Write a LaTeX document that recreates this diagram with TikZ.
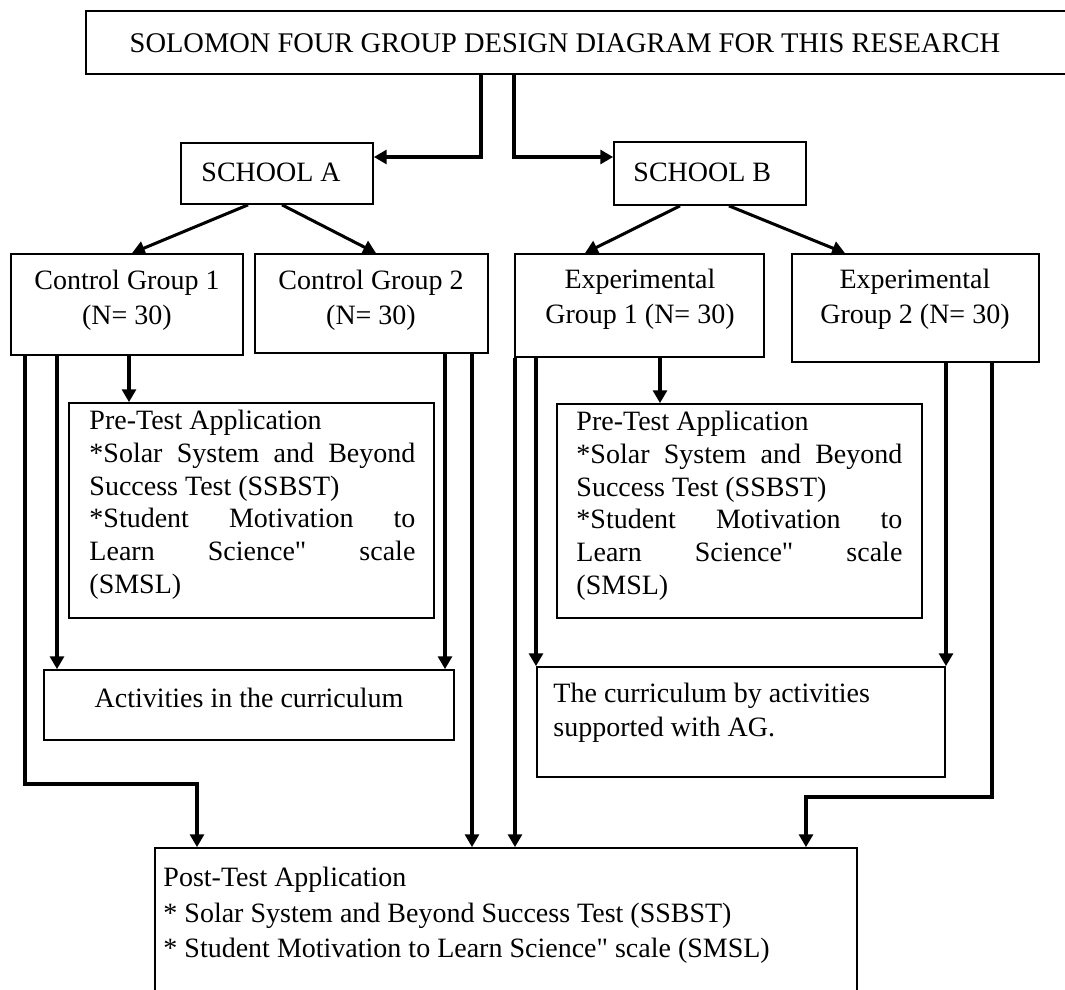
\documentclass[tikz,border=0pt]{standalone}
\usepackage{fontspec}
\setmainfont{Liberation Serif}[Ligatures=TeXOff]
\usetikzlibrary{arrows.meta,fit,calc}
\newlength\pw \setlength\pw{139.7pt}
\newcommand\jl[1]{\makebox[\pw][s]{#1}}
\begin{document}
\begin{tikzpicture}[x=0.4286pt,y=-0.4286pt,
  box/.style={draw, line width=0.75pt, inner sep=0pt},
  txt/.style={inner sep=0pt, font=\fontsize{12}{14.5}\selectfont},
  conn/.style={line width=1.3pt, line join=miter, -{Triangle[width=6pt,length=5.5pt]}}]
\useasboundingbox (0,0) rectangle (1065,990);
\clip (0,0) rectangle (1065,990);
% boxes
\node[box, fit={(86,11) (1080,74)}] (title) {};
\node[box, fit={(181,143) (373,204)}] (A) {};
\node[box, fit={(614,142) (806,205)}] (B) {};
\node[box, fit={(11,254) (243,355)}] (cg1) {};
\node[box, fit={(255,254) (488,353)}] (cg2) {};
\node[box, fit={(515,254) (764,357)}] (eg1) {};
\node[box, fit={(792,254) (1039,362)}] (eg2) {};
\node[box, fit={(69,403) (434,618)}] (preL) {};
\node[box, fit={(557,404) (922,618)}] (preR) {};
\node[box, fit={(44,670) (454,740)}] (act) {};
\node[box, fit={(537,667) (945,777)}] (cur) {};
\node[box, fit={(155,848) (857,1010)}] (post) {};
% texts
\node[txt, anchor=base, font=\fontsize{12.2}{14.5}\selectfont] (titlet) at (565,53) {SOLOMON FOUR GROUP DESIGN DIAGRAM FOR THIS RESEARCH};
\node[txt, anchor=base west] (At) at (201,182) {SCHOOL A};
\node[txt, anchor=base west] (Bt) at (633,182) {SCHOOL B};
\node[txt, anchor=north, align=center, font=\fontsize{12}{15}\selectfont] (cg1t) at (127,270) {Control Group 1\\(N= 30)};
\node[txt, anchor=north, align=center, font=\fontsize{12}{15}\selectfont] (cg2t) at (371,270) {Control Group 2\\(N= 30)};
\node[txt, anchor=north, align=center, font=\fontsize{12}{15}\selectfont] (eg1t) at (640,269) {Experimental\\Group 1 (N= 30)};
\node[txt, anchor=north, align=center, font=\fontsize{12}{15}\selectfont] (eg2t) at (915,269) {Experimental\\Group 2 (N= 30)};
\node[txt, anchor=north west, align=left, font=\fontsize{12}{14}\selectfont] (preLt) at (89,410)
  {Pre-Test Application\\\jl{*Solar System and Beyond}\\Success Test (SSBST)\\\jl{*Student Motivation to}\\\jl{Learn Science" scale}\\(SMSL)};
\node[txt, anchor=north west, align=left, font=\fontsize{12}{14}\selectfont] (preRt) at (576,411)
  {Pre-Test Application\\\jl{*Solar System and Beyond}\\Success Test (SSBST)\\\jl{*Student Motivation to}\\\jl{Learn Science" scale}\\(SMSL)};
\node[txt, anchor=base] (actt) at (249,708) {Activities in the curriculum};
\node[txt, anchor=north west, align=left, font=\fontsize{12}{14.6}\selectfont] (curt) at (553,683)
  {The curriculum by activities\\supported with AG.};
\node[txt, anchor=north west, align=left, font=\fontsize{12}{15.2}\selectfont] (postt) at (163,867)
  {Post-Test Application\\* Solar System and Beyond Success Test (SSBST)\\* Student Motivation to Learn Science" scale (SMSL)};
% helper coordinates
\coordinate (t1) at (481,157);
\coordinate (t2) at (514,157);
\coordinate (a1) at (248,0); \coordinate (a1e) at (132,0);
\coordinate (a2) at (282,0); \coordinate (a2e) at (376,0);
\coordinate (b1) at (680,0); \coordinate (b1e) at (585,0);
\coordinate (b2) at (729,0); \coordinate (b2e) at (845,0);
\coordinate (x25) at (25,784); \coordinate (x197) at (197,784);
\coordinate (x57) at (57,0); \coordinate (x129) at (129,0);
\coordinate (x445) at (445,0); \coordinate (x472) at (472,0);
\coordinate (x515) at (515,0); \coordinate (x536) at (536,0); \coordinate (x660) at (660,0);
\coordinate (x946) at (946,0);
\coordinate (x992) at (992,797); \coordinate (x806) at (806,797);
% connectors
\draw[conn] (title.south -| t1) -- (t1) -- (t1 -| A.east);
\draw[conn] (title.south -| t2) -- (t2) -- (t2 -| B.west);
\draw[conn] (A.south -| a1) -- (cg1.north -| a1e);
\draw[conn] (A.south -| a2) -- (cg2.north -| a2e);
\draw[conn] (B.south -| b1) -- (eg1.north -| b1e);
\draw[conn] (B.south -| b2) -- (eg2.north -| b2e);
\draw[conn] (cg1.south -| x25) -- (x25) -- (x197) -- (post.north -| x197);
\draw[conn] (cg1.south -| x57) -- (act.north -| x57);
\draw[conn] (cg1.south -| x129) -- (preL.north -| x129);
\draw[conn] (cg2.south -| x445) -- (act.north -| x445);
\draw[conn] (cg2.south -| x472) -- (post.north -| x472);
\draw[conn] (eg1.south -| x515) -- (post.north -| x515);
\draw[conn] (eg1.south -| x536) -- (cur.north -| x536);
\draw[conn] (eg1.south -| x660) -- (preR.north -| x660);
\draw[conn] (eg2.south -| x946) -- (cur.north -| x946);
\draw[conn] (eg2.south -| x992) -- (x992) -- (x806) -- (post.north -| x806);
\end{tikzpicture}
\end{document}
